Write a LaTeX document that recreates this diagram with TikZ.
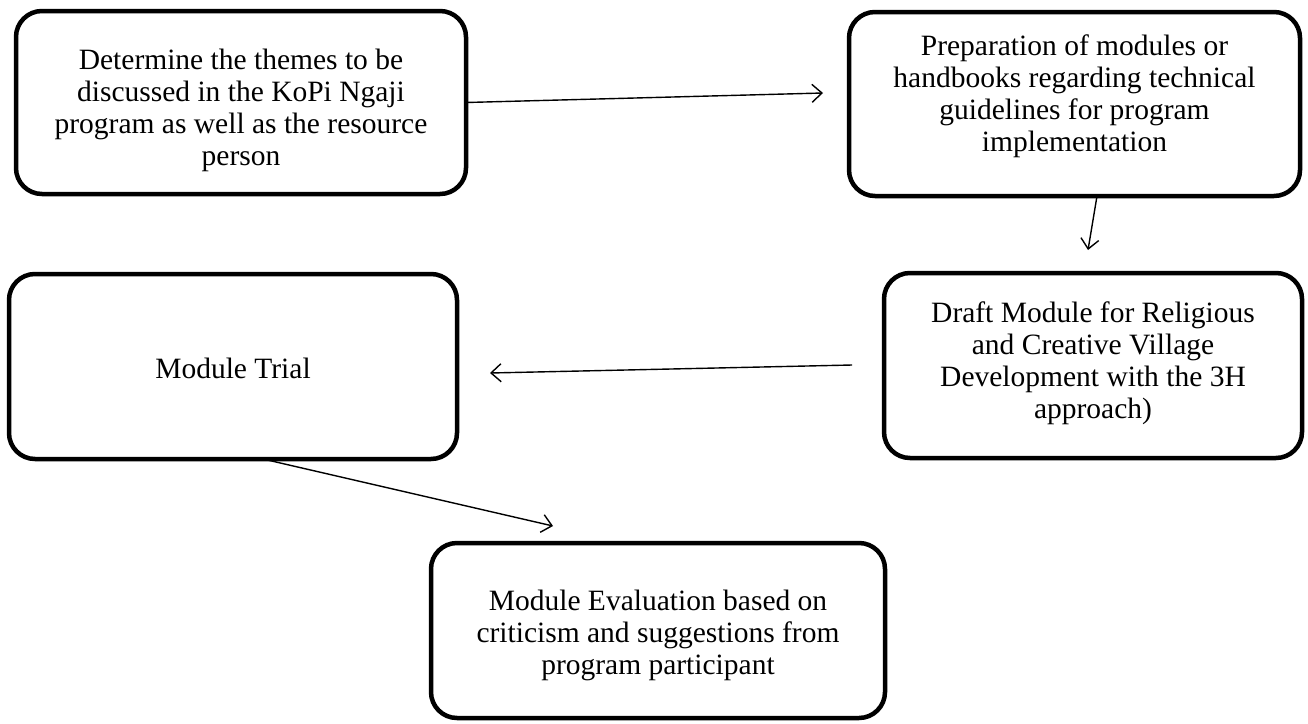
\documentclass[tikz,border=0pt]{standalone}
\usepackage{fontspec}
\setmainfont{Liberation Serif}
\usetikzlibrary{arrows.meta}
\begin{document}
\begin{tikzpicture}[x=1pt,y=-1pt,
  stepbox/.style={draw=black,line width=4.5pt,rounded corners=26pt,inner sep=0pt,outer sep=0pt},
  steptext/.style={align=center,inner sep=0pt,font=\fontsize{29.5}{32}\selectfont},
  arr/.style={line width=1.4pt,-{Straight Barb[length=10pt,width=18pt,line width=1.4pt]}}]
\useasboundingbox (0,0) rectangle (1308,723);
\node[stepbox,minimum width=450pt,minimum height=183pt] (b1) at (241,102.5) {};
\node[stepbox,minimum width=451pt,minimum height=184pt] (b2) at (1074.5,104) {};
\node[stepbox,minimum width=418pt,minimum height=185pt] (b3) at (1093,365.5) {};
\node[stepbox,minimum width=448pt,minimum height=185pt] (b4) at (233,366.5) {};
\node[stepbox,minimum width=454pt,minimum height=175pt] (b5) at (658,630.5) {};
\node[steptext] (t1) at (241,110) {Determine the themes to be\\discussed in the KoPi Ngaji\\program as well as the resource\\person};
\node[steptext] (t2) at (1074.5,96) {Preparation of modules or\\handbooks regarding technical\\guidelines for program\\implementation};
\node[steptext] (t3) at (1093,363) {Draft Module for Religious\\and Creative Village\\Development with the 3H\\approach)};
\node[steptext] (t4) at (233,368) {Module Trial};
\node[steptext] (t5) at (658,635) {Module Evaluation based on\\criticism and suggestions from\\program participant};
\coordinate (e1) at (823,93);
\coordinate (e2) at (1088,250);
\coordinate (s3) at (852,365);
\coordinate (e3) at (490,373);
\coordinate (e4) at (553,526);
\draw[arr] (b1.east) -- (e1);
\draw[arr] ([xshift=22.5pt]b2.south) -- (e2);
\draw[arr] (s3) -- (e3);
\draw[arr] ([xshift=30pt]b4.south) -- (e4);
\end{tikzpicture}
\end{document}
